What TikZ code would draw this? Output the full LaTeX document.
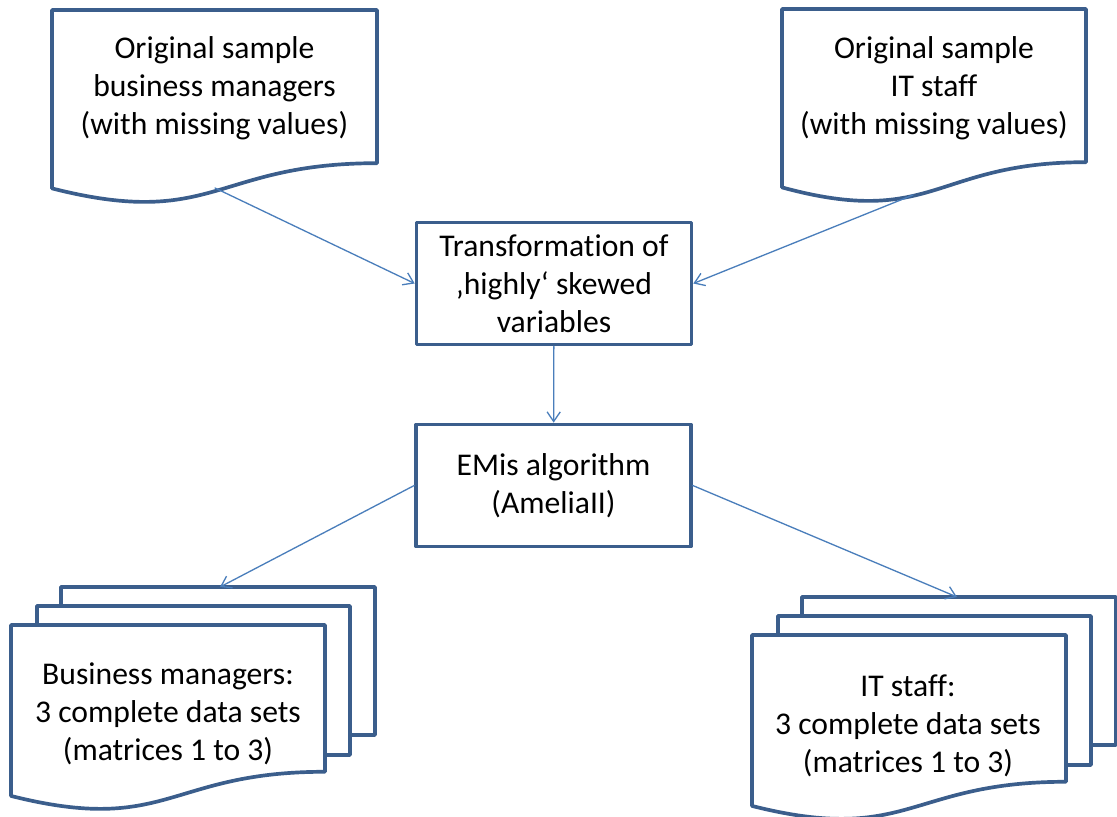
\documentclass[tikz,border=0pt]{standalone}
\usepackage{fontspec}
\setmainfont{Carlito}[Ligatures=NoCommon]
\usetikzlibrary{arrows.meta}
\definecolor{boxblue}{HTML}{3B5E8C}
\definecolor{arrowblue}{HTML}{4A7EBB}
\tikzset{
  shapeline/.style={draw=boxblue,line width=2.1pt,fill=white},
  procbox/.style={shapeline,minimum width=5.5cm,minimum height=2.44cm,inner sep=0pt,align=center},
  label/.style={align=center,inner sep=0pt,font=\fontsize{18}{21.5}\selectfont},
  flow/.style={draw=arrowblue,line width=0.75pt,-{Straight Barb[length=5.5pt,width=7.5pt]}}
}
% document outline: x0, y0, width, height
\newcommand{\docshape}[4]{%
  \draw[shapeline] (#1,#2) -- (#1+#3,#2) -- (#1+#3,#2+0.802*#4)
    .. controls (#1+0.5*#3,#2+0.802*#4) and (#1+0.5*#3,#2+1.15*#4) .. (#1,#2+0.934*#4) -- cycle;}
% three stacked pages: x0, y0 of the front page
\newcommand{\multidoc}[2]{%
  \draw[shapeline] (#1+50,#2-38) rectangle (#1+364,#2+110);
  \draw[shapeline] (#1+26,#2-19) rectangle (#1+339,#2+130);
  \docshape{#1}{#2}{314}{183}}
\begin{document}
\begin{tikzpicture}[x=0.02cm,y=-0.02cm,line join=round,line cap=round]
  \useasboundingbox (0,0) rectangle (1117,816);
  %========two samples with missing values
  \docshape{52}{10}{325}{191}
  \docshape{782}{9}{304}{191}
  \node[label] (bmsample) at (214.5,88) {Original sample\\business managers\\(with missing values)};
  \node[label] (itsample) at (934,88) {Original sample\\IT staff\\(with missing values)};
  %========processing steps
  \node[procbox,label] (trans) at (554,283.5) {Transformation of\\‚highly‘ skewed\\variables};
  \node[procbox,label] (emis) at (553.5,485.5) {EMis algorithm\\(AmeliaII)};
  %========completed data sets
  \multidoc{11}{625}
  \multidoc{752}{635}
  \node[label] (bmsets) at (168,714) {Business managers:\\3 complete data sets\\(matrices 1 to 3)};
  \node[label] (itsets) at (908,726) {IT staff:\\3 complete data sets\\(matrices 1 to 3)};
  \path
  (215,188) coordinate (bmout)
  (913,195) coordinate (itout)
  (220,587) coordinate (bmin)
  (957,597) coordinate (itin)
  ;
  \draw[flow] (bmout) -- (trans.west);
  \draw[flow] (itout) -- (trans.east);
  \draw[flow] (trans) -- (emis);
  \draw[flow] (emis.west) -- (bmin);
  \draw[flow] (emis.east) -- (itin);
\end{tikzpicture}
\end{document}
